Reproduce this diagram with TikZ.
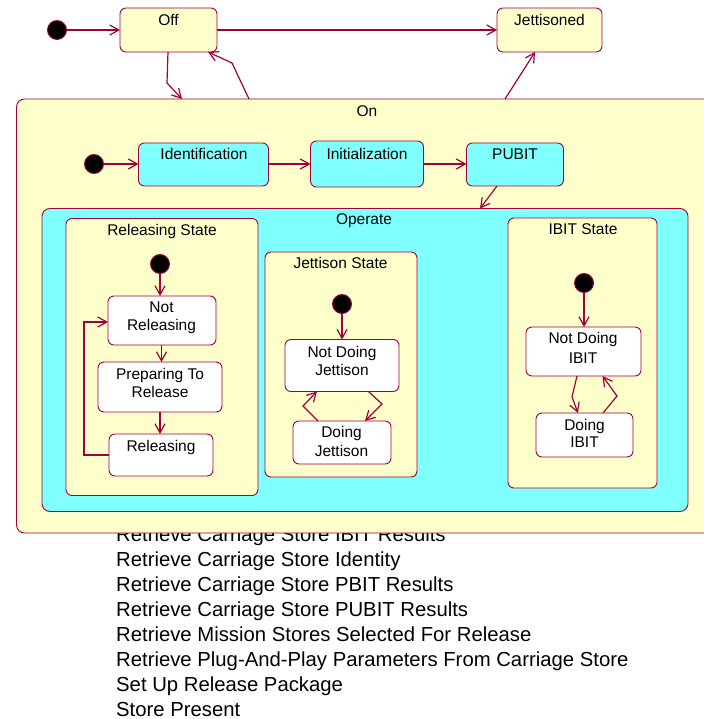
\documentclass[tikz,border=0pt]{standalone}
\usepackage{fontspec}
\setmainfont{Liberation Sans}
\usetikzlibrary{arrows.meta}
\definecolor{bord}{RGB}{160,0,60}
\definecolor{yel}{RGB}{255,255,204}
\definecolor{cya}{RGB}{128,255,255}
\begin{document}
\begin{tikzpicture}[x=1pt,y=-1pt,
 box/.style={draw=bord, line width=0.9pt, rounded corners=6pt, inner sep=0pt, outer sep=0pt},
 ybox/.style={box, fill=yel},
 cbox/.style={box, fill=cya},
 wbox/.style={box, fill=white},
 lbl/.style={font=\fontsize{15.5}{18}\selectfont, anchor=base, inner sep=0pt},
 initst/.style={circle, fill=black, draw=bord, line width=0.9pt, minimum size=19pt, inner sep=0pt, outer sep=0pt},
 tr/.style={draw=bord, line width=1.2pt, -{Straight Barb[length=9pt,width=10pt,line width=1.2pt]}},
 txt/.style={font=\fontsize{20.3}{24}\selectfont, anchor=base west, inner sep=0pt}]
\useasboundingbox (0,0) rectangle (703,719);
% bottom list
\node[txt] (t1) at (116,541.5) {Retrieve Carriage Store IBIT Results};
\node[txt] (t2) at (116,566.5) {Retrieve Carriage Store Identity};
\node[txt] (t3) at (116,591.5) {Retrieve Carriage Store PBIT Results};
\node[txt] (t4) at (116,616.5) {Retrieve Carriage Store PUBIT Results};
\node[txt] (t5) at (116,641.5) {Retrieve Mission Stores Selected For Release};
\node[txt] (t6) at (116,666.5) {Retrieve Plug-And-Play Parameters From Carriage Store};
\node[txt] (t7) at (116,691.5) {Set Up Release Package};
\node[txt] (t8) at (116,716.5) {Store Present};
% top level states
\node[ybox, rounded corners=8pt, minimum width=695.5pt, minimum height=434pt] (on) at (364.25,316) {};
\node[ybox, minimum width=97pt, minimum height=44pt] (off) at (168.5,30) {};
\node[ybox, minimum width=105pt, minimum height=44pt] (jett) at (549.5,30) {};
% On substates
\node[cbox, minimum width=130pt, minimum height=43pt] (ident) at (203.5,164.5) {};
\node[cbox, minimum width=113pt, minimum height=46pt] (initz) at (367,164) {};
\node[cbox, minimum width=97pt, minimum height=43pt] (pubit) at (515,164.5) {};
\node[cbox, rounded corners=8pt, minimum width=646pt, minimum height=303pt] (operate) at (365,360) {};
% Operate regions
\node[ybox, minimum width=192pt, minimum height=277pt] (relst) at (162,357) {};
\node[ybox, minimum width=152pt, minimum height=225pt] (jetst) at (341,364.5) {};
\node[ybox, minimum width=149pt, minimum height=270pt] (ibitst) at (582.5,353) {};
% inner states
\node[wbox, minimum width=108pt, minimum height=49pt] (notrel) at (162,320.5) {};
\node[wbox, minimum width=124pt, minimum height=50pt] (prep) at (160,387) {};
\node[wbox, minimum width=104pt, minimum height=42pt] (rel) at (161,455) {};
\node[wbox, minimum width=114pt, minimum height=52pt] (ndj) at (342,365.5) {};
\node[wbox, minimum width=98pt, minimum height=43pt] (dj) at (342,442.5) {};
\node[wbox, minimum width=115pt, minimum height=49pt] (ndi) at (583.5,351.5) {};
\node[wbox, minimum width=97pt, minimum height=44pt] (di) at (584.5,435) {};
% initial pseudostates
\node[initst] (i0) at (57,30) {};
\node[initst] (i1) at (94,164) {};
\node[initst] (i2) at (160,264) {};
\node[initst] (i3) at (342,304) {};
\node[initst] (i4) at (584,283) {};
% labels
\node[lbl] (loff) at (168.5,25.5) {Off};
\node[lbl] (ljett) at (549.5,25.5) {Jettisoned};
\node[lbl] (lon) at (367,116.5) {On};
\node[lbl] (lident) at (204,159.5) {Identification};
\node[lbl] (linitz) at (367,159.5) {Initialization};
\node[lbl] (lpubit) at (515,159.5) {PUBIT};
\node[lbl] (lop) at (364,224.5) {Operate};
\node[lbl] (lrelst) at (162,235.5) {Releasing State};
\node[lbl] (lnr1) at (161.5,312.5) {Not};
\node[lbl] (lnr2) at (161.5,330.5) {Releasing};
\node[lbl] (lpr1) at (160,379.5) {Preparing To};
\node[lbl] (lpr2) at (160,397.5) {Release};
\node[lbl] (lrel) at (161,451.5) {Releasing};
\node[lbl] (ljetst) at (340.5,268.5) {Jettison State};
\node[lbl] (lndj1) at (342,357.5) {Not Doing};
\node[lbl] (lndj2) at (342,375) {Jettison};
\node[lbl] (ldj1) at (341.5,437.5) {Doing};
\node[lbl] (ldj2) at (341.5,456) {Jettison};
\node[lbl] (libitst) at (583,234.5) {IBIT State};
\node[lbl] (lndi1) at (583,343.5) {Not Doing};
\node[lbl] (lndi2) at (583,363.5) {IBIT};
\node[lbl] (ldi1) at (584.5,430.5) {Doing};
\node[lbl] (ldi2) at (584.5,447.5) {IBIT};
% bend points
\coordinate (b1) at (167,83);
\coordinate (b2) at (232,63);
\coordinate (b3) at (382,404);
\coordinate (b4) at (303,406);
\coordinate (b5) at (572,397);
\coordinate (b6) at (617,396);
\coordinate (lp) at (84,400);
% transitions
\draw[tr] (i0.east) -- (off.west);
\draw[tr] (off.east) -- (jett.west);
\draw[tr] ([xshift=-0.5pt]off.south) -- (b1) -- ([xshift=165.5pt]on.north west);
\draw[tr] ([xshift=232.5pt]on.north west) -- (b2) -- ([xshift=-9pt]off.south east);
\draw[tr] ([xshift=488.5pt]on.north west) -- ([xshift=-14.5pt]jett.south);
\draw[tr] (i1.east) -- (i1.east -| ident.west);
\draw[tr] (ident.east |- initz.west) -- (initz.west);
\draw[tr] (initz.east) -- (initz.east -| pubit.west);
\draw[tr] ([xshift=-18pt]pubit.south) -- ([xshift=115pt]operate.north);
\draw[tr] (i2.south) -- (i2.south |- notrel.north);
\draw[tr] ([xshift=-0.5pt]notrel.south) -- ([xshift=-0.5pt]notrel.south |- prep.north);
\draw[tr] (prep.south) -- (prep.south |- rel.north);
\draw[tr] (rel.west) -| (lp) |- ([yshift=-1.5pt]notrel.west);
\draw[tr] (i3.south) -- (ndj.north);
\draw[tr] ([xshift=26.5pt]ndj.south) -- (b3) -- ([xshift=23pt]dj.north);
\draw[tr] ([xshift=-24pt]dj.north) -- (b4) -- ([xshift=-25pt]ndj.south);
\draw[tr] (i4.south) -- (i4.south |- ndi.north);
\draw[tr] ([xshift=-6.5pt]ndi.south) -- (b5) -- ([xshift=-6.5pt]di.north);
\draw[tr] ([xshift=18.5pt]di.north) -- (b6) -- ([xshift=19pt]ndi.south);
\end{tikzpicture}
\end{document}
